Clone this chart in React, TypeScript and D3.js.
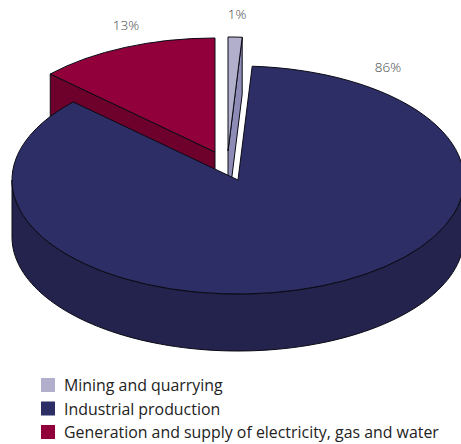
import React from "react";
import * as d3 from "d3";

const categories = ["Mining and quarrying", "Industrial production", "Generation and supply of electricity, gas and water"];
const shares = [1, 86, 13];
const shareLabels = ["1%", "86%", "13%"];
const topColors = ["#b2afcc", "#2e2e66", "#91003a"];
const sideColors = ["#8e8cb6", "#23234e", "#6e002c"];

const width = 461;
const height = 444;
const rx = 226;
const ry = 114;
const depth = 57;
const centers: [number, number][] = [[228, 151], [238, 180], [215, 152]];
const labelSpots: [number, number][] = [[237, 19], [388, 72], [126, 30]];
const legendColor = d3.scaleOrdinal<string, string>().domain(categories).range(topColors);
const legendY = d3.scalePoint<string>().domain(categories).range([385, 432]);

const pieAngles = d3.pie<number>().sort(null)(shares);
const sector = d3.arc<d3.PieArcDatum<number>>().innerRadius(0).outerRadius(rx);

const pointOn = (c: [number, number], a: number): [number, number] => [
  c[0] + rx * Math.sin(a),
  c[1] - ry * Math.cos(a),
];

// Extruded radial face running from the rim point at angle a to the apex of the slice
const radialFace = (c: [number, number], a: number) => {
  const [x, y] = pointOn(c, a);
  return d3.line()([[x, y], c, [c[0], c[1] + depth], [x, y + depth]]) + "Z";
};

// Curved front wall: the lower half of the rim, dropped by the pie's thickness
const frontWall = (c: [number, number]) => {
  const [cx, cy] = c;
  const p = d3.path();
  p.moveTo(cx + rx, cy);
  p.lineTo(cx + rx, cy + depth);
  const steps = d3.range(0, 181, 2).map((deg) => (deg * Math.PI) / 180);
  steps.forEach((t) => p.lineTo(cx + rx * Math.cos(t), cy + depth + ry * Math.sin(t)));
  p.lineTo(cx - rx, cy);
  steps.slice().reverse().forEach((t) => p.lineTo(cx + rx * Math.cos(t), cy + ry * Math.sin(t)));
  p.closePath();
  return p.toString();
};

const edge = { stroke: "#0a0a14", strokeWidth: 1, strokeLinejoin: "round" as const };

function Slice({ i }: { i: number }) {
  const c = centers[i];
  const d = pieAngles[i];
  return (
    <g>
      {i === 0 && <path d={radialFace(c, d.endAngle)} fill={sideColors[i]} {...edge} />}
      {i === 2 && <path d={radialFace(c, d.startAngle)} fill={sideColors[i]} {...edge} />}
      {i === 1 && <path d={frontWall(c)} fill={sideColors[i]} {...edge} />}
      <path
        d={sector(d) ?? ""}
        transform={`translate(${c[0]},${c[1]}) scale(1,${ry / rx})`}
        fill={topColors[i]}
        vectorEffect="non-scaling-stroke"
        {...edge}
      />
    </g>
  );
}

export default function App() {
  return (
    <svg
      width={width}
      height={height}
      viewBox={`0 0 ${width} ${height}`}
      style={{ position: "absolute", left: 0, top: 0, background: "#fff" }}
      fontFamily="'Open Sans', 'Noto Sans', sans-serif"
    >
      {/* The two detached slices sit behind the large one */}
      <Slice i={2} />
      <Slice i={0} />
      <Slice i={1} />
      {shareLabels.map((t, i) => (
        <text key={t} x={labelSpots[i][0]} y={labelSpots[i][1]} textAnchor="middle" fontSize={13.5} fontWeight={300} fill="#444">
          {t}
        </text>
      ))}
      {categories.map((name) => (
        <g key={name}>
          <rect x={41} y={(legendY(name) ?? 0) - 7} width={14} height={14} fill={legendColor(name)} />
          <text x={64} y={(legendY(name) ?? 0) + 6} fontSize={15.9} fill="#222">
            {name}
          </text>
        </g>
      ))}
    </svg>
  );
}
